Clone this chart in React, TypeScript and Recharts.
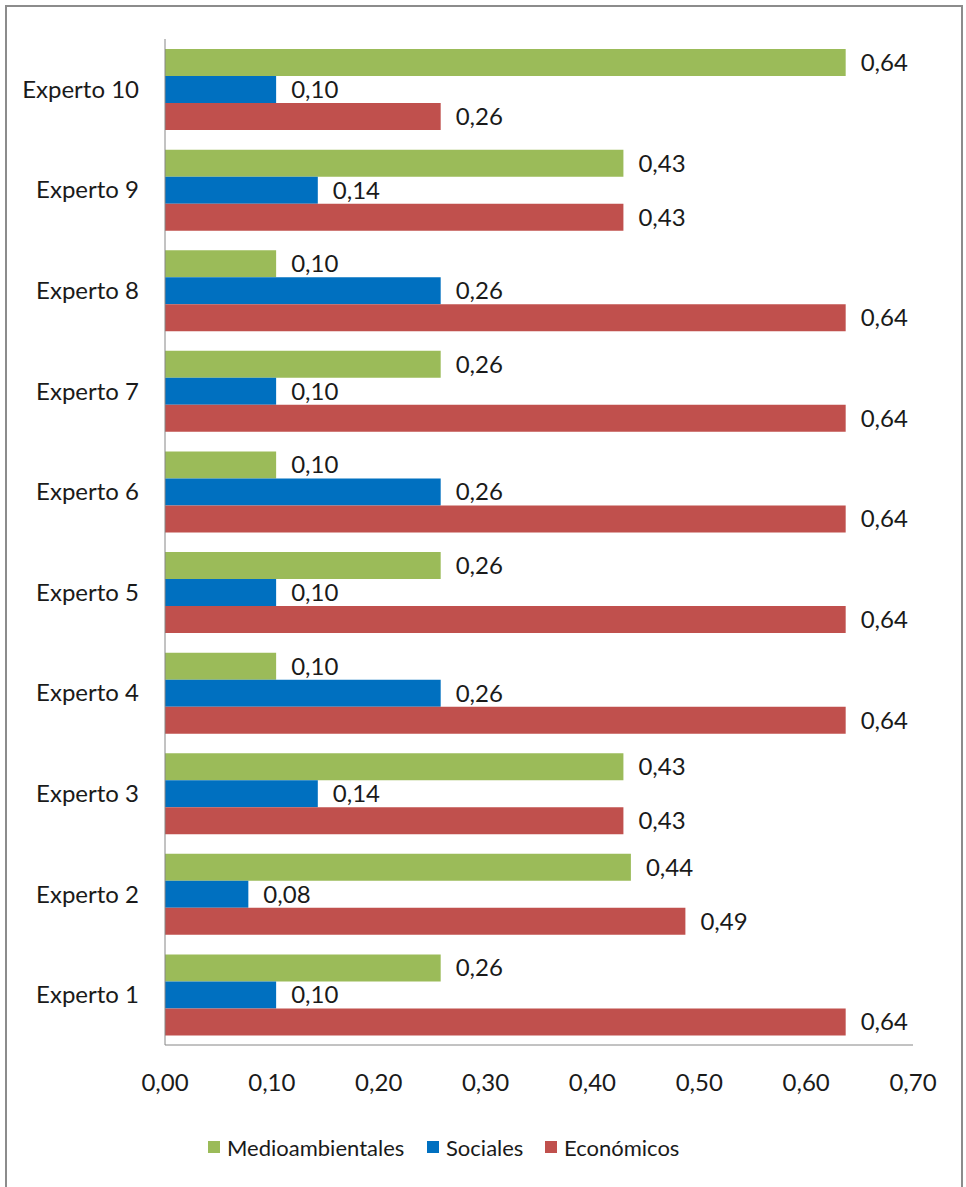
import React from 'react';
import { BarChart, Bar, XAxis, YAxis, LabelList, Legend } from 'recharts';

const categories = ['Experto 1', 'Experto 2', 'Experto 3', 'Experto 4', 'Experto 5', 'Experto 6', 'Experto 7', 'Experto 8', 'Experto 9', 'Experto 10'];
const medioambientales = [0.258, 0.436, 0.429, 0.104, 0.258, 0.104, 0.258, 0.104, 0.429, 0.637];
const sociales = [0.104, 0.078, 0.143, 0.258, 0.104, 0.258, 0.104, 0.258, 0.143, 0.104];
const economicos = [0.637, 0.487, 0.429, 0.637, 0.637, 0.637, 0.637, 0.637, 0.429, 0.258];
const xTicks = [0, 0.1, 0.2, 0.3, 0.4, 0.5, 0.6, 0.7];

const seriesNames = ['Medioambientales', 'Sociales', 'Económicos'];
const seriesColors = ['#9BBB59', '#0070C0', '#C0504D'];

const data = categories.map((c, i) => ({
  name: c,
  Medioambientales: medioambientales[i],
  Sociales: sociales[i],
  'Económicos': economicos[i],
}));

const FONT = 'Lato, "Open Sans", sans-serif';
const TEXT = '#1a1a1a';
const fmt = (v: any) => Number(v).toFixed(2).replace('.', ',');

const legendLefts = [208, 427, 545];

const LegendContent = () => (
  <div style={{ position: 'relative', width: 966, height: 40, fontFamily: FONT, fontSize: 22, color: TEXT }}>
    {seriesNames.map((n, i) => (
      <div key={n} style={{ position: 'absolute', left: legendLefts[i], top: 0, height: 40, display: 'flex', alignItems: 'center' }}>
        <span style={{ display: 'inline-block', width: 12, height: 12, background: seriesColors[i], marginRight: 7 }} />
        <span>{n}</span>
      </div>
    ))}
  </div>
);

export default function App() {
  return (
    <div style={{ position: 'absolute', left: 0, top: 0, width: 966, height: 1187, background: '#fff' }}>
      <div style={{ position: 'absolute', left: 5, top: 5, width: 958, height: 1190, border: '2px solid #8c8c8c', borderBottom: 'none', boxSizing: 'border-box' }} />
      <div style={{ position: 'absolute', left: 0, top: 0 }}>
        <BarChart
          width={966}
          height={1187}
          data={data}
          layout="vertical"
          margin={{ top: 39, right: 53, bottom: 20, left: 0 }}
          barCategoryGap="10%"
          barGap={0}
        >
          <XAxis
            type="number"
            domain={[0, 0.7]}
            ticks={xTicks}
            tickFormatter={fmt}
            axisLine={{ stroke: '#868686', strokeWidth: 1 }}
            tickLine={false}
            tickSize={0}
            tickMargin={29}
            height={82}
            tick={{ fill: TEXT, fontSize: 24, fontFamily: FONT }}
            interval={0}
          />
          <YAxis
            type="category"
            dataKey="name"
            reversed
            width={165}
            axisLine={{ stroke: '#868686', strokeWidth: 1 }}
            tickLine={false}
            tickSize={0}
            tickMargin={26}
            tick={{ fill: TEXT, fontSize: 24, fontFamily: FONT }}
            interval={0}
          />
          <Legend verticalAlign="bottom" content={<LegendContent />} wrapperStyle={{ left: 0, width: 966, height: 40 }} />
          {seriesNames.map((n, i) => (
            <Bar key={n} dataKey={n} fill={seriesColors[i]} isAnimationActive={false}>
              <LabelList dataKey={n} position="right" offset={15} formatter={fmt} style={{ fill: TEXT, fontSize: 24, fontFamily: FONT }} />
            </Bar>
          ))}
        </BarChart>
      </div>
    </div>
  );
}
